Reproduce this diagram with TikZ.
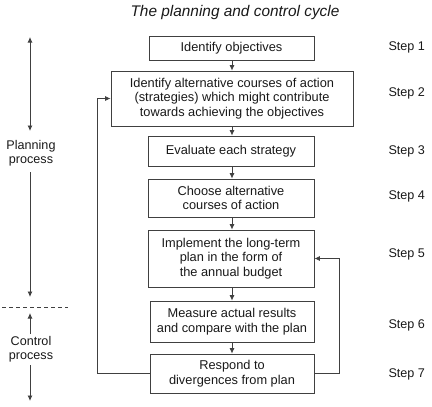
\documentclass[tikz,border=0pt]{standalone}
\usepackage{fontspec}
\setmainfont{Liberation Sans}
\usetikzlibrary{arrows.meta}
\begin{document}
\begin{tikzpicture}[x=1pt,y=-1pt,
  box/.style={draw=black!75, line width=0.8pt, rectangle, align=center, inner sep=0pt,
    font=\fontsize{12.8}{14.5}\selectfont, text=black!90},
  lbl/.style={align=center, font=\fontsize{12.6}{14.5}\selectfont, text=black!90},
  conn/.style={draw=black!75, line width=0.8pt, -{Latex[length=5.5pt,width=5pt]}},
  plain/.style={draw=black!75, line width=0.8pt},
  dbl/.style={draw=black!75, line width=0.8pt, {Latex[length=5.5pt,width=5pt]}-{Latex[length=5.5pt,width=5pt]}}]
\useasboundingbox (0,0) rectangle (432,407);
\node[font=\fontsize{15.4}{18}\selectfont\itshape, text=black!90] (title) at (235,13) {The planning and control cycle};

\node[box, minimum width=165pt, minimum height=24pt] (b1) at (231.5,48) {Identify objectives};
\node[box, minimum width=242pt, minimum height=55pt] (b2) at (232,98.5) {Identify alternative courses of action\\(strategies) which might contribute\\towards achieving the objectives};
\node[box, minimum width=166pt, minimum height=30pt] (b3) at (231,151) {Evaluate each strategy};
\node[box, minimum width=166pt, minimum height=38pt] (b4) at (231,198) {Choose alternative\\courses of action};
\node[box, minimum width=166pt, minimum height=57pt] (b5) at (231,258.5) {Implement the long-term\\plan in the form of\\the annual budget};
\node[box, minimum width=164pt, minimum height=41pt] (b6) at (232,321.5) {Measure actual results\\and compare with the plan};
\node[box, minimum width=164pt, minimum height=39pt] (b7) at (232,373.5) {Respond to\\divergences from plan};

\foreach \i/\y in {1/47,2/93,3/151,4/196,5/254,6/325,7/374}
  \node[lbl, anchor=west] (s\i) at (385,\y) {Step \i};

\draw[conn] (b1.south -| 232,0) -- (b2.north -| 232,0);
\draw[conn] (b2.south -| 232,0) -- (b3.north -| 232,0);
\draw[conn] (b3.south -| 232,0) -- (b4.north -| 232,0);
\draw[conn] (b4.south -| 232,0) -- (b5.north -| 232,0);
\draw[conn] (b5.south -| 232,0) -- (b6.north -| 232,0);
\draw[conn] (b6.south -| 232,0) -- (b7.north -| 232,0);

\coordinate (lft) at (97,0);
\coordinate (rgt) at (339,0);
\draw[conn] (b7.west) -| (lft |- b2.west) -- (b2.west);
\draw[conn] (b7.east) -| (rgt |- b5.east) -- (b5.east);

\node[lbl] (plan) at (31,153) {Planning\\process};
\node[lbl] (ctrl) at (31,349) {Control\\process};
\coordinate (pa) at (30,37);
\coordinate (pb) at (30,131);
\coordinate (pc) at (30,297);
\coordinate (ca) at (30,313);
\coordinate (cb) at (30,401);
\draw[dbl] (pa) -- (pb);
\draw[conn] (30,172) -- (pc);
\draw[conn] (30,334) -- (ca);
\draw[conn] (30,365) -- (cb);
\coordinate (d1) at (2,307);
\coordinate (d2) at (68,307);
\draw[plain, dashed, dash pattern=on 4pt off 3pt] (d1) -- (d2);
\end{tikzpicture}
\end{document}
